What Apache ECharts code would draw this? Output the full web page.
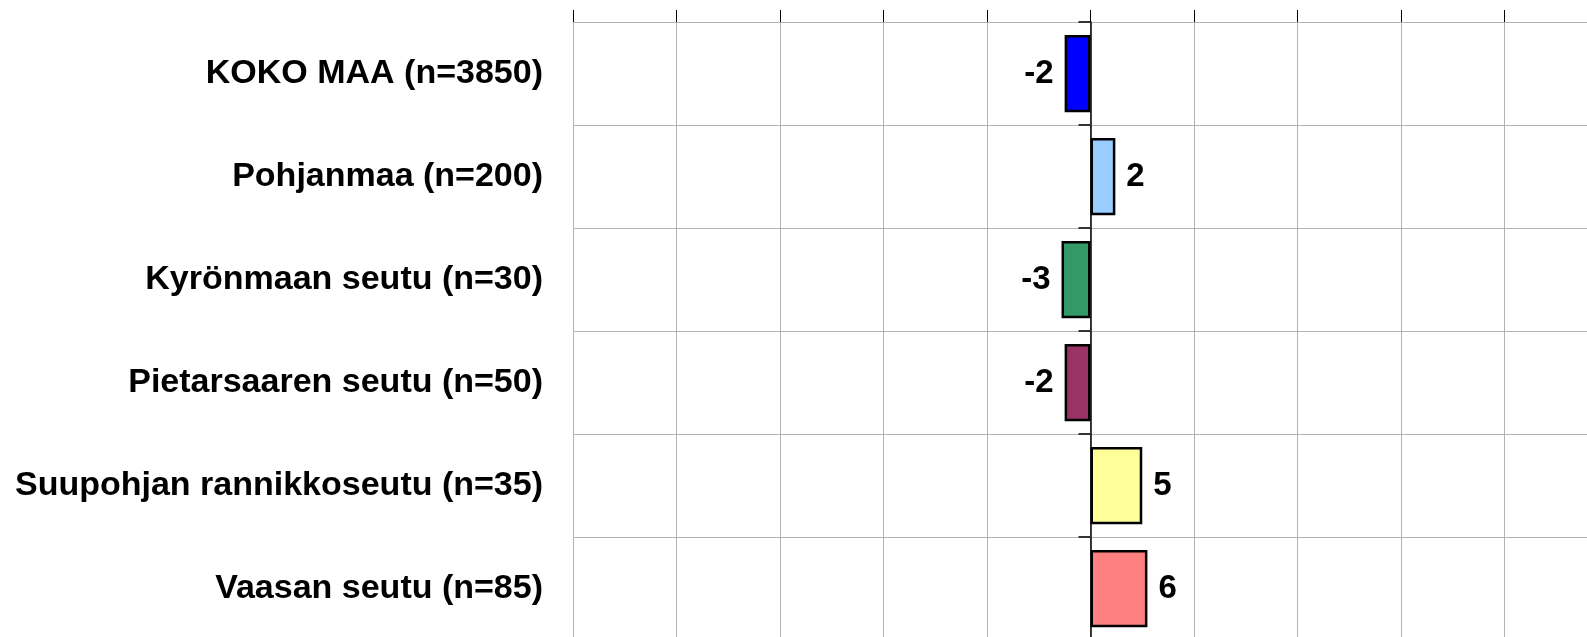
<!DOCTYPE html>
<html>
<head>
<meta charset="utf-8">
<script src="https://cdn.jsdelivr.net/npm/echarts@6/dist/echarts.min.js"></script>
<style>
  html, body { margin: 0; padding: 0; background: #fff; }
  #chart { width: 1587px; height: 637px; }
</style>
</head>
<body>
<div id="chart"></div>
<script>
// alueet ylhäältä alas
const categories = [
  'KOKO MAA (n=3850)',
  'Pohjanmaa (n=200)',
  'Kyrönmaan seutu (n=30)',
  'Pietarsaaren seutu (n=50)',
  'Suupohjan rannikkoseutu (n=35)',
  'Vaasan seutu (n=85)'
]
// palkkien pituudet luettu kuvasta (nimiöissä pyöristettynä)
const values = [-2.5, 2.4, -2.8, -2.5, 5.0, 5.5]
const colors = ['#0000ff', '#99ccff', '#339966', '#993366', '#ffff99', '#ff8080']

const font = "'Liberation Sans', Arial, sans-serif"
const gridColor = '#b3b3b3'

const chart = echarts.init(document.getElementById('chart'))
chart.setOption({
  backgroundColor: '#fff',
  animation: false,
  grid: { left: 573, top: 22, width: 1035, height: 618, outerBoundsMode: 'none' },
  xAxis: {
    type: 'value',
    position: 'top',
    min: -50,
    max: 50,
    interval: 10,
    axisLine: { onZero: false, lineStyle: { color: '#000', width: 1.5 } },
    axisTick: { show: true, length: 12, lineStyle: { color: '#000', width: 1 } },
    axisLabel: { show: false },
    splitLine: { show: true, lineStyle: { color: gridColor, width: 1 } }
  },
  yAxis: [
    {
      type: 'category',
      data: categories,
      inverse: true,
      position: 'left',
      axisLine: { show: false, onZero: false },
      axisTick: { show: false },
      axisLabel: {
        margin: 30,
        color: '#000',
        fontFamily: font,
        fontWeight: 'bold',
        fontSize: 34
      },
      splitLine: { show: true, lineStyle: { color: gridColor, width: 1 } }
    },
    {
      // nolla-akseli
      type: 'category',
      data: categories,
      inverse: true,
      position: 'left',
      axisLine: { show: true, onZero: true, lineStyle: { color: '#000', width: 1.5 } },
      axisTick: { show: true, length: 12, lineStyle: { color: '#333', width: 2 } },
      axisLabel: { show: false },
      splitLine: { show: false }
    }
  ],
  series: [{
    type: 'bar',
    yAxisIndex: 0,
    barCategoryGap: '25%',
    data: values.map((v, i) => ({
      value: v,
      itemStyle: { color: colors[i] },
      label: { position: v < 0 ? 'left' : 'right' }
    })),
    itemStyle: { borderColor: '#000', borderWidth: 2.5 },
    label: {
      show: true,
      distance: 11,
      color: '#000',
      fontFamily: font,
      fontWeight: 'bold',
      fontSize: 33,
      formatter: p => Math.round(p.value)
    }
  }]
})
</script>
</body>
</html>
